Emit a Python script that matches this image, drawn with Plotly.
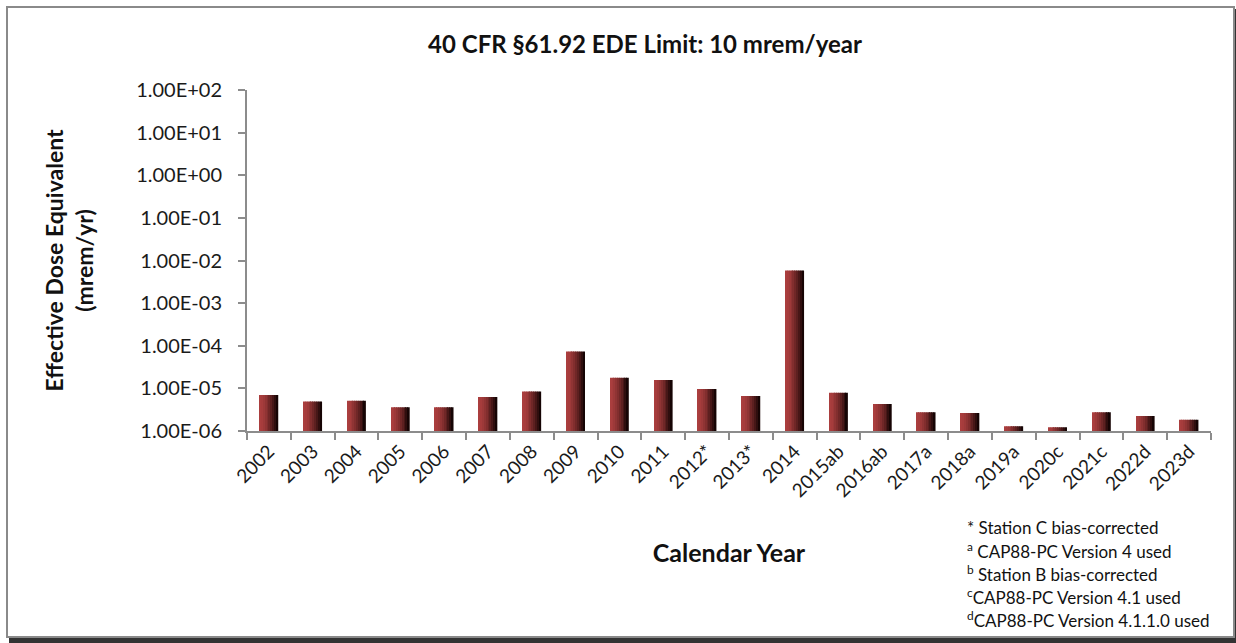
import plotly.graph_objects as go

# data
years = ['2002', '2003', '2004', '2005', '2006', '2007', '2008', '2009', '2010', '2011',
         '2012*', '2013*', '2014', '2015ab', '2016ab', '2017a', '2018a', '2019a',
         '2020c', '2021c', '2022d', '2023d']
ede = [7.0e-6, 4.9e-6, 5.1e-6, 3.6e-6, 3.6e-6, 6.3e-6, 8.4e-6, 7.3e-5, 1.78e-5, 1.58e-5,
       9.7e-6, 6.6e-6, 5.8e-3, 7.9e-6, 4.3e-6, 2.75e-6, 2.65e-6, 1.29e-6,
       1.22e-6, 2.75e-6, 2.25e-6, 1.84e-6]
tick_vals = [1e-6, 1e-5, 1e-4, 1e-3, 1e-2, 1e-1, 1, 10, 100]
tick_text = ['1.00E-06', '1.00E-05', '1.00E-04', '1.00E-03', '1.00E-02',
             '1.00E-01', '1.00E+00', '1.00E+01', '1.00E+02']
footnotes = ['* Station C bias-corrected',
             '<sup>a</sup> CAP88-PC Version 4 used',
             '<sup>b</sup> Station B bias-corrected',
             '<sup>c</sup>CAP88-PC Version 4.1 used',
             '<sup>d</sup>CAP88-PC Version 4.1.1.0 used']

W, H = 1236, 643
L, R, T, B = 247, 25, 90, 212
PW, PH = W - L - R, H - T - B
FONT = 'Lato, Carlito, Calibri, sans-serif'


def px(x):
    return (x - L) / PW


def py(y):
    return (H - B - y) / PH


def mix(c1, c2, t):
    return 'rgb(%d,%d,%d)' % tuple(round(a + (b - a) * t) for a, b in zip(c1, c2))


fig = go.Figure()

# fake the horizontal gradient of the Excel bars with thin slices
n_slices = 10
bar_w = 0.42
light, dark = (170, 62, 62), (22, 4, 4)
for i in range(n_slices):
    t = (i / (n_slices - 1)) ** 1.6
    fig.add_trace(go.Bar(
        x=years, y=ede,
        width=bar_w / n_slices + 0.003,
        offset=-bar_w / 2 + i * bar_w / n_slices,
        marker=dict(color=mix(light, dark, t), line=dict(width=0)),
        showlegend=False,
        hovertemplate='%{x}: %{y:.2E}<extra></extra>'
    ))

fig.update_layout(
    width=W, height=H,
    margin=dict(l=L, r=R, t=T, b=B),
    paper_bgcolor='white', plot_bgcolor='white',
    barmode='overlay',
    font=dict(family=FONT, color='#1a1a1a'),
    showlegend=False,
    title=dict(text='<b>40 CFR §61.92 EDE Limit: 10 mrem/year</b>',
               xref='paper', x=px(645), xanchor='center',
               yref='container', y=1 - 45 / H, yanchor='middle',
               font=dict(size=24, color='#111111')),
)

fig.update_xaxes(
    type='category',
    title=dict(text='<b>Calendar Year</b>', standoff=44,
               font=dict(size=25, color='#111111')),
    showline=True, linecolor='#8c8c8c', linewidth=2,
    ticks='outside', tickson='boundaries', ticklen=7, tickcolor='#8c8c8c', tickwidth=2,
    tickangle=-45, tickfont=dict(size=19, color='#1a1a1a'),
    showgrid=False, zeroline=False,
)
fig.update_yaxes(
    type='log', range=[-6, 2],
    title=dict(text='<b>Effective Dose Equivalent<br>(mrem/yr)</b>', standoff=36,
               font=dict(size=23, color='#111111')),
    tickvals=tick_vals, ticktext=tick_text,
    showline=True, linecolor='#8c8c8c', linewidth=2,
    ticks='outside', ticklen=7, tickcolor='#8c8c8c', tickwidth=2,
    ticklabelstandoff=12,
    tickfont=dict(size=20, color='#1a1a1a'),
    showgrid=False, zeroline=False,
)

# footnotes
for k, note in enumerate(footnotes):
    fig.add_annotation(
        text=note, x=px(965), y=py(527 + 23 * k), xref='paper', yref='paper',
        xanchor='left', yanchor='middle', showarrow=False,
        font=dict(size=17, color='#111111')
    )

# chart frame with a little shadow
fig.add_shape(type='rect', xref='paper', yref='paper',
              x0=px(9), x1=px(1236), y0=py(643), y1=py(9),
              line=dict(width=0), fillcolor='rgba(0,0,0,0.8)', layer='below')
fig.add_shape(type='rect', xref='paper', yref='paper',
              x0=px(7), x1=px(1234), y0=py(637), y1=py(7),
              line=dict(color='#8a8a8a', width=2), fillcolor='white', layer='below')

fig.write_html('out.html', config={'displayModeBar': False},
               post_script="document.body.style.margin='0';")
